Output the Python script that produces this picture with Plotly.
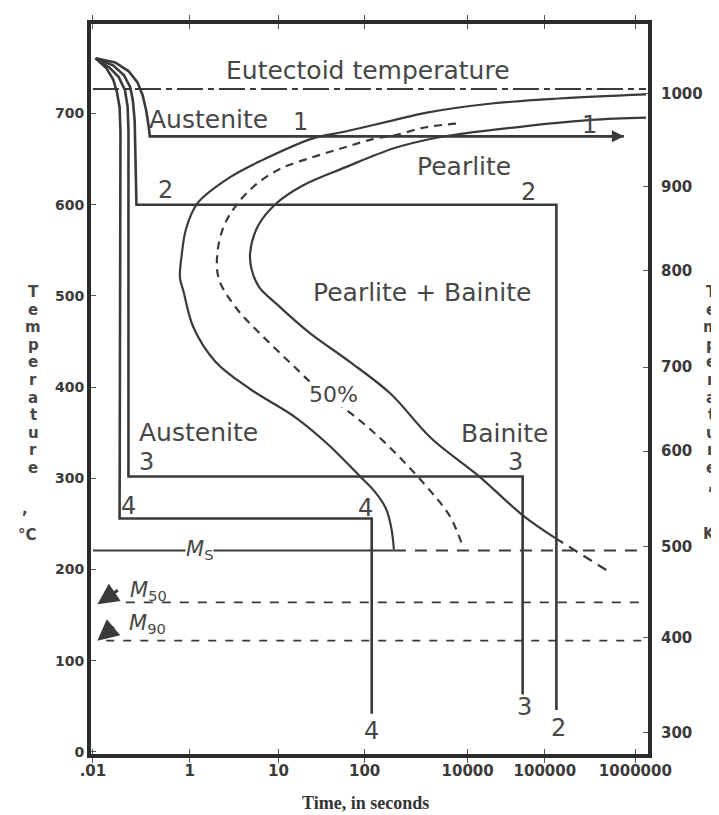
import plotly.graph_objects as go

# ---------------- data (x in axis-position units, temperatures in deg C) ----------------
time_tick_pos = [0, 1.09, 2.09, 3.06, 4.22, 5.09, 6.11]
time_tick_text = [".01", "1", "10", "100", "10000", "100000", "1000000"]
celsius_ticks = [0, 100, 200, 300, 400, 500, 600, 700]
kelvin_tick_text = ["300", "400", "500", "600", "700", "800", "900", "1000"]
kelvin_tick_pos = [21, 125, 225, 330, 422, 528, 620, 722]

x_range = [-0.022, 6.252]
t_range = [-2.2, 798.2]
x_left, x_right = 0, 6.23

eutectoid_T = 727
ms_T = 221
m50_T = 164
m90_T = 122

# transformation start (solid), 50 % (dashed), finish (solid) curves
start_x = [6.23, 5.24, 4.49, 3.76, 3.38, 2.83, 2.47, 1.92, 1.54, 1.18, 1.05, 1.00, 0.98, 1.02,
           1.13, 1.38, 1.77, 2.28, 2.64, 3.00, 3.17, 3.30, 3.36, 3.39]
start_T = [721, 716.5, 711, 701, 692.5, 680, 672.5, 649.5, 630, 602, 574, 545, 520, 505,
           466, 428, 398, 367, 338, 303, 286, 267, 246, 222]

half_x = [4.09, 3.75, 3.39, 3.17, 2.84, 2.47, 2.10, 1.81, 1.60, 1.47, 1.40, 1.42, 1.62, 1.89,
          2.23, 2.57, 2.91, 3.28, 3.74, 4.02, 4.17]
half_T = [689, 685, 676, 672.5, 663, 652, 639, 620, 597.5, 575.5, 545.5, 518, 486, 458,
          426, 395, 371, 340, 293, 258.5, 224]

finish_x = [6.23, 5.61, 4.86, 4.17, 3.87, 3.39, 2.84, 2.37, 2.07, 1.86, 1.77, 1.79, 1.87, 2.07,
            2.44, 2.89, 3.35, 3.81, 4.34, 4.86, 5.20]
finish_T = [695.5, 693, 686, 678, 673.5, 662, 641, 621.5, 602, 577, 547, 528, 510, 491,
            459.5, 428, 393, 344, 303, 258, 235]
finish_ext_x = [5.20, 5.51, 5.84]
finish_ext_T = [235, 216, 196]

# cooling paths 1-4
path1_x = [0.03, 0.25, 0.40, 0.50, 0.56, 0.60, 0.63, 0.64, 5.98]
path1_T = [760.6, 756, 746.6, 734.5, 720, 703, 684.5, 675, 675]
path2_x = [0.03, 0.23, 0.35, 0.42, 0.45, 0.47, 0.49, 5.22, 5.22]
path2_T = [760.6, 752.6, 742, 729, 714, 692, 600, 600, 46]
path3_x = [0.03, 0.19, 0.29, 0.36, 0.39, 0.40, 0.40, 4.84, 4.84]
path3_T = [760.6, 750, 740, 726, 708, 681, 302, 302, 63]
path4_x = [0.03, 0.15, 0.23, 0.27, 0.30, 0.31, 0.30, 3.14, 3.14]
path4_T = [760.6, 750, 737, 723.5, 707, 680, 256, 256, 42]

# ---------------- styles ----------------
LINE = "#3a3a3a"
TEXT = "#474747"
FONT = "DejaVu Sans"

fig = go.Figure()


def add_line(x, y, width=2.2, dash="solid", shape="linear", color=LINE):
    fig.add_trace(go.Scatter(x=x, y=y, mode="lines", hoverinfo="skip", showlegend=False,
                             line=dict(color=color, width=width, dash=dash, shape=shape,
                                       smoothing=1.0 if shape == "spline" else None)))


# eutectoid line
add_line([x_left, x_right], [eutectoid_T, eutectoid_T], width=2, dash="26px,5px,6px,5px")
# Ms, M50, M90
add_line([x_left, start_x[-1]], [ms_T, ms_T], width=2)
add_line([start_x[-1], x_right], [ms_T, ms_T], width=2, dash="12px,9px")
add_line([0.37, x_right], [m50_T, m50_T], width=1.8, dash="9px,9px")
add_line([0.15, x_right], [m90_T, m90_T], width=1.8, dash="8px,9px")

# C curves
add_line(start_x, start_T, width=2.2, shape="spline")
add_line(half_x, half_T, width=2.2, dash="8px,6px", shape="spline")
add_line(finish_x, finish_T, width=2.2, shape="spline")
add_line(finish_ext_x, finish_ext_T, width=2.2, dash="10px,7px")

# cooling paths
for px, pt in [(path1_x, path1_T), (path2_x, path2_T), (path3_x, path3_T), (path4_x, path4_T)]:
    add_line(px, pt, width=2.6)

# dummy trace for the right (Kelvin) axis
fig.add_trace(go.Scatter(x=[0], y=[0], yaxis="y2", mode="markers", marker=dict(opacity=0),
                         hoverinfo="skip", showlegend=False))

# ---------------- annotations ----------------
def label(x, y, text, size=25, bg=None):
    fig.add_annotation(x=x, y=y, text=text, showarrow=False, xanchor="center", yanchor="middle",
                       font=dict(family=FONT, size=size, color=TEXT),
                       bgcolor=bg, borderpad=0)


label(3.10, 747, "Eutectoid temperature")
label(1.30, 693, "Austenite")
label(2.34, 691, "1", 24)
label(5.59, 688, "1", 24)
label(4.18, 642, "Pearlite")
label(4.91, 614, "2", 24)
label(0.82, 616, "2", 24)
label(3.71, 504, "Pearlite + Bainite")
label(2.71, 392, "50%", 22, bg="white")
label(1.19, 350, "Austenite")
label(0.60, 318, "3", 24)
label(4.63, 349, "Bainite")
label(4.76, 318, "3", 24)
label(0.40, 270, "4", 24)
label(3.07, 267, "4", 24)
label(3.14, 23, "4", 24)
label(4.86, 49, "3", 24)
label(5.24, 26, "2", 24)
label(1.20, 221, "<i>M</i><sub>S</sub>", 21, bg="white")
label(0.62, 177, "<i>M</i><sub>50</sub>", 21)
label(0.61, 140, "<i>M</i><sub>90</sub>", 21)

# M50 / M90 arrows
for tip_T, ax in [(162, 22), (122, 18)]:
    fig.add_annotation(x=0.05, y=tip_T, ax=ax, ay=-15, text="", showarrow=True,
                       arrowhead=2, arrowsize=1.5, arrowwidth=2.8, arrowcolor=LINE)
# arrow at the end of path 1
fig.add_annotation(x=path1_x[-1], y=path1_T[-1], ax=-30, ay=0, text="", showarrow=True,
                   arrowhead=2, arrowsize=1.2, arrowwidth=2, arrowcolor=LINE)

# axis titles (stacked letters); window pixel -> paper coords (plot area 91..648, 22..754)
TITLE_FONT = dict(family=FONT, size=15, color=TEXT, weight="bold")


def paper_text(px, py, text, font=TITLE_FONT):
    fig.add_annotation(xref="paper", yref="paper", x=(px - 91) / 557, y=(754 - py) / 732,
                       text=text, showarrow=False, xanchor="center", yanchor="middle",
                       font=font)


for i, ch in enumerate("Temperature"):
    paper_text(33, 291 + i * 17.6, ch)
paper_text(25, 508, ",")
paper_text(27, 534, "°C")
for i, ch in enumerate("Temperature,"):
    paper_text(711, 291 + i * 17.6, ch)
paper_text(709, 533, "K")
paper_text(365, 803, "Time, in seconds",
           dict(family="Liberation Serif", size=18, color="#333", weight="bold"))

TICK_FONT = dict(family=FONT, size=14, color="#3a3a3a", weight="bold")
TICK_FONT_L = dict(family=FONT, size=15, color="#3a3a3a", weight="bold")
FRAME = "#2b2b2b"

# the page body adds an 8 px offset, so the figure is 8 px smaller than the window
fig.update_layout(
    width=711, height=807,
    margin=dict(l=83, r=71, t=14, b=61),
    paper_bgcolor="white", plot_bgcolor="white",
    xaxis=dict(range=x_range, tickvals=time_tick_pos, ticktext=time_tick_text,
               showgrid=False, zeroline=False, showline=True, linewidth=4, linecolor=FRAME,
               mirror="allticks", ticks="inside", ticklen=5, tickwidth=1.2, tickcolor="#555",
               tickfont=TICK_FONT_L),
    yaxis=dict(range=t_range, tickvals=celsius_ticks, showgrid=False, zeroline=False,
               showline=True, linewidth=4, linecolor=FRAME, mirror=True,
               ticks="inside", ticklen=5, tickwidth=1.2, tickcolor="#555",
               tickfont=TICK_FONT),
    yaxis2=dict(range=t_range, overlaying="y", side="right", tickvals=kelvin_tick_pos,
                ticktext=kelvin_tick_text, showgrid=False, zeroline=False, showline=False,
                ticks="inside", ticklen=5, tickwidth=1.2, tickcolor="#555",
                ticklabelstandoff=12, tickfont=TICK_FONT_L),
)

fig.write_html("out.html")
